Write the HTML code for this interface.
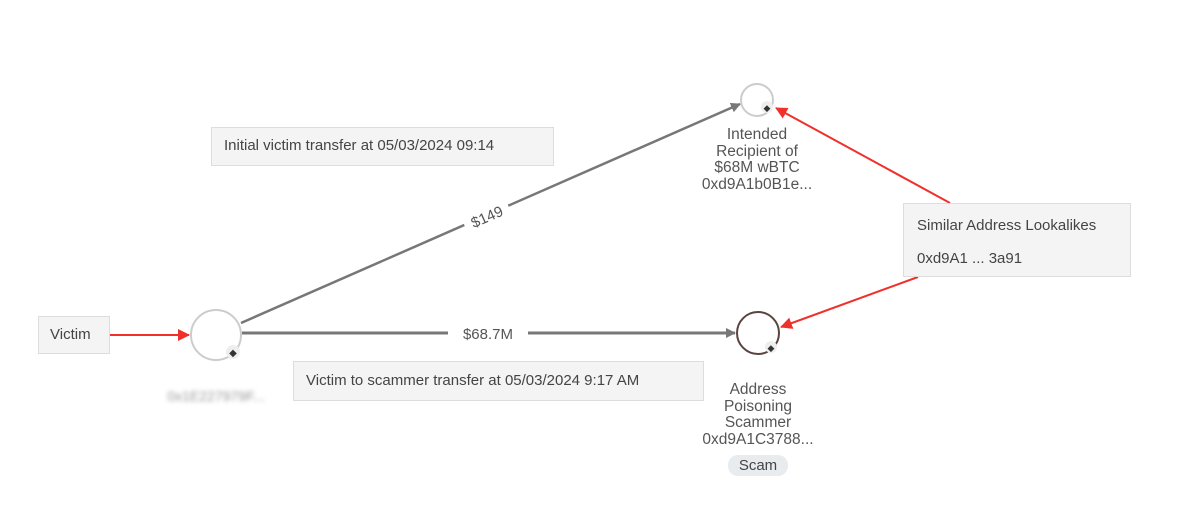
<!DOCTYPE html>
<html><head><style>
html,body{margin:0;padding:0;background:#fff;}
body{width:1200px;height:511px;overflow:hidden;position:relative;font-family:"Liberation Sans",sans-serif;color:#444;}
svg{position:absolute;left:0;top:0;}
.box{position:absolute;background:#f4f4f4;border:1px solid #ddd;font-size:15px;color:#444;box-sizing:border-box;}
.lbl{position:absolute;text-align:center;font-size:15.5px;line-height:16.5px;color:#555;}
</style></head><body>
<svg width="1200" height="511">
<defs>
<marker id="ag" markerWidth="10" markerHeight="10" refX="9" refY="5" orient="auto" markerUnits="userSpaceOnUse"><path d="M0,0 L10,5 L0,10 z" fill="#777"/></marker>
<marker id="ar" markerWidth="12" markerHeight="12" refX="11" refY="6" orient="auto" markerUnits="userSpaceOnUse"><path d="M0,0 L12,6 L0,12 z" fill="#f0302a"/></marker>
</defs>
<line x1="110" y1="335" x2="189" y2="335" stroke="#f0302a" stroke-width="2" marker-end="url(#ar)"/>
<line x1="241" y1="323" x2="740" y2="104" stroke="#777" stroke-width="2.5" marker-end="url(#ag)"/>
<line x1="242" y1="333" x2="735" y2="333" stroke="#777" stroke-width="3" marker-end="url(#ag)"/>
<line x1="950" y1="203" x2="776" y2="108" stroke="#f0302a" stroke-width="2" marker-end="url(#ar)"/>
<line x1="918" y1="277" x2="781" y2="327" stroke="#f0302a" stroke-width="2" marker-end="url(#ar)"/>
<circle cx="216" cy="335" r="25" fill="#fff" stroke="#ccc" stroke-width="2"/>
<circle cx="233" cy="352" r="7" fill="#eee"/><text x="233" y="356" font-size="10" text-anchor="middle" fill="#333">◆</text>
<circle cx="757" cy="100" r="16" fill="#fff" stroke="#ccc" stroke-width="2"/>
<circle cx="767" cy="107" r="6" fill="#eee"/><text x="767" y="111" font-size="9" text-anchor="middle" fill="#333">◆</text>
<circle cx="758" cy="333" r="21" fill="#fff" stroke="#5a4440" stroke-width="2"/>
<circle cx="771" cy="347" r="6" fill="#eee"/><text x="771" y="351" font-size="9" text-anchor="middle" fill="#333">◆</text>
<rect x="448" y="322" width="80" height="22" fill="#fff"/>
<text x="488" y="339" font-size="15" text-anchor="middle" fill="#555" font-family="Liberation Sans">$68.7M</text>
<g transform="translate(487,217) rotate(-23.7)"><rect x="-24" y="-12" width="48" height="22" fill="#fff"/><text x="0" y="5" font-size="15" text-anchor="middle" fill="#555" font-family="Liberation Sans">$149</text></g>
<text x="216" y="401" font-size="14" text-anchor="middle" fill="#999" style="filter:blur(2px)" font-family="Liberation Sans">0x1E227979F...</text>
</svg>
<div class="box" style="left:38px;top:316px;width:72px;height:38px;padding:9px 0 0 11px;">Victim</div>
<div class="box" style="left:211px;top:127px;width:343px;height:39px;padding:9px 0 0 12px;">Initial victim transfer at 05/03/2024 09:14</div>
<div class="box" style="left:293px;top:361px;width:411px;height:40px;padding:10px 0 0 12px;">Victim to scammer transfer at 05/03/2024 9:17 AM</div>
<div class="box" style="left:903px;top:203px;width:228px;height:74px;padding:5px 0 0 13px;line-height:33px;">Similar Address Lookalikes<br>0xd9A1 ... 3a91</div>
<div class="lbl" style="left:677px;top:127px;width:160px;">Intended<br>Recipient of<br>$68M wBTC<br>0xd9A1b0B1e...</div>
<div class="lbl" style="left:678px;top:382px;width:160px;">Address<br>Poisoning<br>Scammer<br>0xd9A1C3788...</div>
<div style="position:absolute;left:728px;top:455px;width:60px;height:21px;background:#e8ecef;border-radius:10px;text-align:center;font-size:15px;line-height:21px;color:#444;">Scam</div>
</body></html>
